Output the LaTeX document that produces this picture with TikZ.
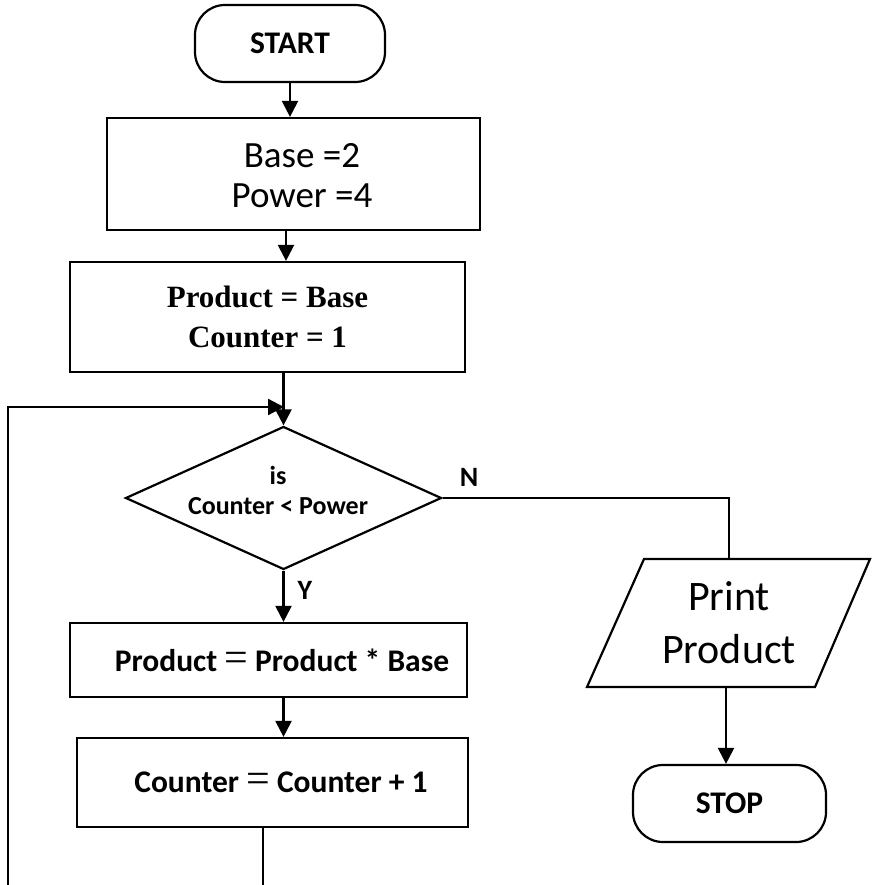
\documentclass[tikz,border=0pt]{standalone}
\usepackage{fontspec}
\setmainfont{Carlito}
\newfontfamily\tms{Liberation Serif}
\usetikzlibrary{shapes.geometric,arrows.meta,calc}
\begin{document}
\begin{tikzpicture}[x=1pt,y=-1pt,line width=2.2pt,
  box/.style={draw,line width=2.2pt,inner sep=0pt,align=center},
  term/.style={box,rounded corners=30pt,font=\fontsize{31.5}{34}\selectfont\bfseries},
  arr/.style={line width=2.2pt,-{Triangle[length=16pt,width=16pt]}},
  ln/.style={line width=2.2pt},
  txt/.style={inner sep=0pt,align=center},
  lbl/.style={font=\fontsize{28}{30}\selectfont\bfseries,inner sep=0pt}]
\useasboundingbox (0,0) rectangle (871,885);
\fill[white] (0,0) rectangle (871,885);

\node[term,minimum width=190pt,minimum height=77pt] (start) at (290,43.5) {START};
\node[box,minimum width=373pt,minimum height=112pt] (b1) at (293.5,174) {};
\node[txt,font=\fontsize{37}{40}\selectfont] (b1t) at (302,176) {Base =2\\Power =4};
\node[box,minimum width=395pt,minimum height=110pt,font=\tms\fontsize{31}{40}\selectfont\bfseries] (b2) at (267.5,317) {Product = Base\\Counter = 1};
\node[draw,diamond,line width=2.2pt,inner sep=0pt,minimum width=316pt,minimum height=143pt] (dia) at (283.5,498) {};
\node[txt,font=\fontsize{26}{30}\selectfont\bfseries] (dtext) at (278,490) {is\\Counter {<} Power};
\node[box,minimum width=397pt,minimum height=74pt] (b3) at (268.5,660) {};
\node[txt,font=\fontsize{31.5}{30}\selectfont\bfseries] (b3t) at (282,660) {Product {\tms\mdseries\fontsize{42}{30}\selectfont =} Product * Base};
\node[box,minimum width=391pt,minimum height=89pt] (b4) at (272.5,782.5) {};
\node[txt,font=\fontsize{31.5}{30}\selectfont\bfseries] (b4t) at (281,782) {Counter {\tms\mdseries\fontsize{42}{30}\selectfont =} Counter + 1};
\node[txt,minimum width=228pt,minimum height=128pt,font=\fontsize{42}{53}\selectfont] (pp) at (729,623) {Print\\Product};
\draw[ln] (644,559) -- (870,559) -- (815,687) -- (587,687) -- cycle;
\node[term,minimum width=193pt,minimum height=77pt] (stop) at (729.5,803.5) {STOP};

\node[lbl] (nl) at (469,477) {N};
\node[lbl] (yl) at (305,590) {Y};

\coordinate (lb) at (8,885);
\coordinate (rb) at (263,885);
\coordinate (j) at (284,407);

\draw[arr] (start.south) -- (start.south |- b1.north);
\draw[arr] (b1.south -| 286,0) -- (b2.north -| 286,0);
\draw[arr] (b2.south -| dia.north) -- (dia.north);
\draw[arr] (lb) |- (j);
\draw[ln] (dia.east) -| (pp.north);
\draw[arr] (dia.south) -- (b3.north -| dia.south);
\draw[arr] (b3.south -| dia.south) -- (b4.north -| dia.south);
\draw[ln] (b4.south -| rb) -- (rb);
\draw[arr] (pp.south -| 726,0) -- (stop.north -| 726,0);
\end{tikzpicture}
\end{document}
